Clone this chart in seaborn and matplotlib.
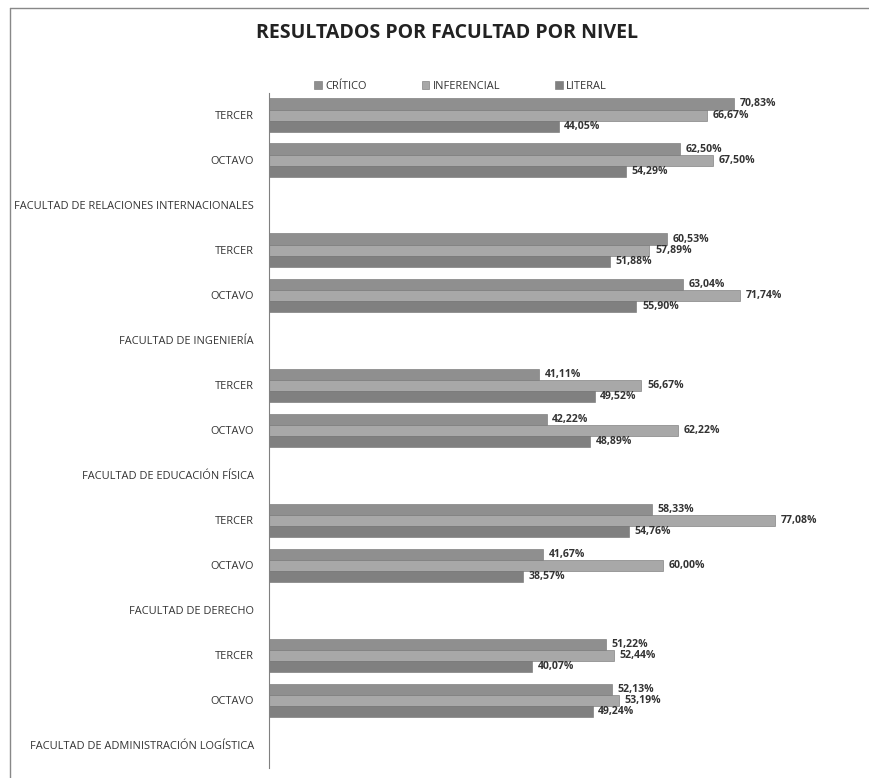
import matplotlib.pyplot as plt
import numpy as np
import pandas as pd
import seaborn as sns

sns.set_style("white")
plt.rcParams["font.family"] = ["Open Sans", "DejaVu Sans"]

# rows top to bottom (faculty rows carry no bars)
row_keys = ["RI_T", "RI_O", "RI", "IN_T", "IN_O", "IN", "EF_T", "EF_O", "EF",
            "DE_T", "DE_O", "DE", "AL_T", "AL_O", "AL"]
row_labels = ["TERCER", "OCTAVO", "FACULTAD DE RELACIONES INTERNACIONALES",
              "TERCER", "OCTAVO", "FACULTAD DE INGENIERÍA",
              "TERCER", "OCTAVO", "FACULTAD DE EDUCACIÓN FÍSICA",
              "TERCER", "OCTAVO", "FACULTAD DE DERECHO",
              "TERCER", "OCTAVO", "FACULTAD DE ADMINISTRACIÓN LOGÍSTICA"]
series = ["CRÍTICO", "INFERENCIAL", "LITERAL"]

bar_rows = ["RI_T", "RI_O", "IN_T", "IN_O", "EF_T", "EF_O",
            "DE_T", "DE_O", "AL_T", "AL_O"]
critico = [70.83, 62.50, 60.53, 63.04, 41.11, 42.22, 58.33, 41.67, 51.22, 52.13]
inferencial = [66.67, 67.50, 57.89, 71.74, 56.67, 62.22, 77.08, 60.00, 52.44, 53.19]
literal = [44.05, 54.29, 51.88, 55.90, 49.52, 48.89, 54.76, 38.57, 40.07, 49.24]

colors = ["#8f8f8f", "#a8a8a8", "#808080"]

df = pd.DataFrame({"fila": bar_rows, "CRÍTICO": critico,
                   "INFERENCIAL": inferencial, "LITERAL": literal})
df = df.melt(id_vars="fila", var_name="serie", value_name="valor")

fig = plt.figure(figsize=(8.69, 7.78), dpi=100)
ax = fig.add_axes([0.31, 0.013, 0.68, 0.868])

sns.barplot(data=df, y="fila", x="valor", hue="serie", order=row_keys,
            hue_order=series, palette=colors, orient="h", width=0.74,
            edgecolor="#707070", linewidth=0.4, saturation=1, ax=ax)

for cont in ax.containers:
    labels = [f"{v:.2f}%".replace(".", ",") for v in cont.datavalues]
    ax.bar_label(cont, labels=labels, padding=4, fontsize=7.6,
                 fontweight="bold", color="#333333")

ax.set_xlim(0, 90)
ax.set_yticks(range(len(row_keys)))
ax.set_yticklabels(row_labels, fontsize=7.9, color="#333333")
ax.tick_params(axis="y", length=0, pad=11)
ax.set_xticks([])
ax.set_xlabel("")
ax.set_ylabel("")
for s in ["top", "right", "bottom"]:
    ax.spines[s].set_visible(False)
ax.spines["left"].set_color("#808080")
ax.spines["left"].set_linewidth(0.8)

ax.legend(loc="center", bbox_to_anchor=(0.53, 0.889), bbox_transform=fig.transFigure,
          ncol=3, frameon=False, fontsize=7.9, handlelength=0.7, handleheight=0.7,
          columnspacing=5, handletextpad=0.3, labelcolor="#333333")

fig.text(0.514, 0.958, "RESULTADOS POR FACULTAD POR NIVEL", ha="center",
         va="center", fontsize=14, fontweight="bold", color="#222222",
         family=["Liberation Sans Narrow", "Open Sans", "DejaVu Sans"])

# chart frame
fig.add_artist(plt.Line2D([0.012, 1.0], [0.99, 0.99], transform=fig.transFigure,
                          color="#888888", linewidth=1))
fig.add_artist(plt.Line2D([0.012, 0.012], [0.0, 0.99], transform=fig.transFigure,
                          color="#888888", linewidth=1))

plt.savefig("out.png", dpi=100)
plt.close()
